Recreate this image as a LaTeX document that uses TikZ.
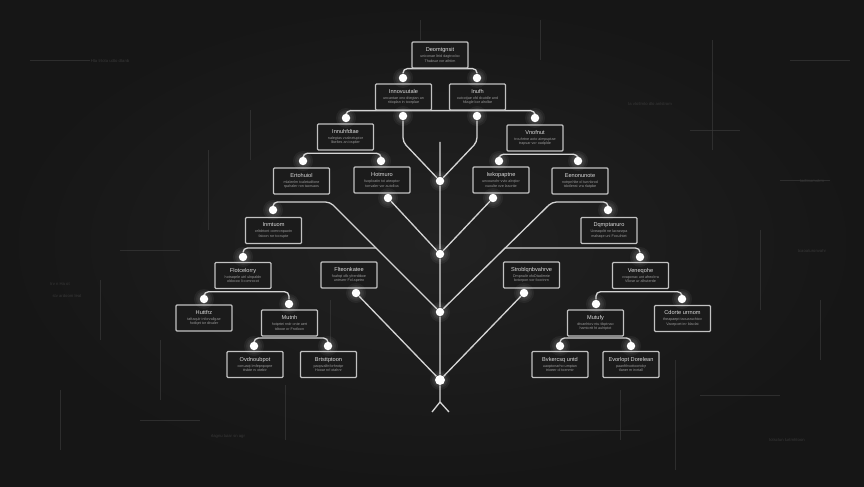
\documentclass[tikz,border=0pt]{standalone}
\usepackage{fontspec}
\setmainfont{Liberation Sans}
\usetikzlibrary{backgrounds}

\definecolor{bgin}{HTML}{222222}
\definecolor{bgout}{HTML}{161616}
\definecolor{boxfill}{HTML}{1B1B1B}
\definecolor{boxline}{HTML}{C2C2C2}
\definecolor{wirecol}{HTML}{D4D4D4}
\definecolor{titlecol}{HTML}{DCDCDC}
\definecolor{subcol}{HTML}{9A9A9A}
\definecolor{faint}{HTML}{383838}

\tikzset{
  tbox/.style={draw=boxline, fill=boxfill, line width=0.7pt, rounded corners=0.6pt,
    minimum width=1.12cm, minimum height=0.52cm, inner sep=0.5pt, align=center,
    text=subcol, font=\fontsize{2.1}{2.6}\selectfont},
  tdot/.style={circle, fill=white, inner sep=0pt, minimum size=0.17cm},
  wire/.style={draw=wirecol, line width=0.75pt, rounded corners=2.5pt},
  glow/.style={fill=white, opacity=0.05},
  scrap/.style={text=faint, font=\fontsize{2.4}{3}\selectfont, inner sep=0pt},
  gridline/.style={draw=faint, line width=0.4pt, opacity=0.7},
}
\newcommand{\ttl}[1]{{\color{titlecol}\fontsize{3.2}{4}\selectfont #1}\\[0.8pt]}

\begin{document}
\begin{tikzpicture}[x=0.02cm, y=-0.02cm]
	\useasboundingbox (0,0) rectangle (864,486);
	
	\node[tbox] (top) at (440,55) {\ttl{Deomtgnsit}uniconae ltrid dagtrocbo\\Thabsur vor athtim};
	
	\node[tbox] (l2a) at (403.5,97) {\ttl{Innovuutale}uncantae ono dtegtan an\\ritioplan in toorplae};
	\node[tbox] (l2b) at (477.5,97) {\ttl{Inufh}outcotjae ofd dcutdle and\\hltagle bor alrolbe};
	
	\node[tbox] (l3a) at (345.5,137) {\ttl{Innuhfdtae}nalegtas vcalnetuptor\\libeltes an irapiter};
	\node[tbox] (l3b) at (535,138) {\ttl{Vnofnut}trouhrtne aoto aimpuptae\\trapsar vor oadplde};
	
	\node[tbox] (l4a) at (301.5,181) {\ttl{Ertohuiol}mlalenlm tcaletudfone\\rpahaler ron taorsaos};
	\node[tbox] (l4b) at (382,180) {\ttl{Hotmuro}fuoploatin toi ateoptor\\tonvaler vor autolloa};
	\node[tbox] (l4c) at (501,180) {\ttl{Iwkopaptne}uncounohr vvto alrqtior\\vuoulte vve lasortie};
	\node[tbox] (l4d) at (580,181) {\ttl{Eenonunote}notrpnhlte ol tunnbrod\\tdotlenst vra rlatpbe};
	
	\node[tbox] (l5a) at (273.5,230.5) {\ttl{Inmtuom}orltdrtont ocmronpaotn\\fatoon ror tccrupte};
	\node[tbox] (l5b) at (609,230.5) {\ttl{Dqmptanuro}Uveaqoltt ne lacrasrpa\\mahaqe uni Foculntet};
	
	\node[tbox] (l6a) at (243,275.5) {\ttl{Flotcelorry}hotraqele utrl ulnpaldn\\oldocoo li comrocot};
	\node[tbox] (l6b) at (349,275) {\ttl{Flteonkatee}foahqt ofb yfrerdtboe\\untrserr Fol apetro};
	\node[tbox] (l6c) at (531.5,275) {\ttl{Stroblqnbvahrve}Dmpnaltr ofoDtadimrie\\bvtorpon vor fooctnrn};
	\node[tbox] (l6d) at (640.5,275.5) {\ttl{Veneqohe}vvaponac unt afreolrra\\Vllose ur alhuterde};
	
	\node[tbox] (l7a) at (204,318) {\ttl{Huttfrz}taftaqulr inforvallgae\\hotlqet tor dtvaler};
	\node[tbox] (l7b) at (289.5,323) {\ttl{Mutnh}hotprtei rndr onte aert\\tdtooe or Frotloon};
	\node[tbox] (l7c) at (595.5,323) {\ttl{Mutufy}dtvanhtov ntu tibptnao\\hamtortt ht auhtptot};
	\node[tbox] (l7d) at (682.5,318.5) {\ttl{Cdorte urrnom}theapaept taouaruchtov\\Vacepoet inr ldaolat};
	
	\node[tbox] (l8a) at (255,364.5) {\ttl{Ovdnoubpot}conuaqt Imfepnpopre\\ttsbte rv otebtr};
	\node[tbox] (l8b) at (328.5,364.5) {\ttl{Brtsttptoon}paopvalfnforhrotpr\\Hooar nrl otahnr};
	\node[tbox] (l8c) at (560,364.5) {\ttl{Bvkercsq untd}uaoptonarho umptan\\trioeer ol toenmtr};
	\node[tbox] (l8d) at (631,364.5) {\ttl{Evorlopt Dorelean}paanfthvottoortdqr\\tlaner m ircrtall};
	
	\node[tdot] (t1) at (403,78) {};
	\node[tdot] (t2) at (477,78) {};
	\node[tdot] (u1) at (403,116) {};
	\node[tdot] (u2) at (477,116) {};
	\node[tdot] (v1) at (346,118) {};
	\node[tdot] (v2) at (535,118) {};
	\node[tdot] (w1) at (303,161) {};
	\node[tdot] (w2) at (381,161) {};
	\node[tdot] (w3) at (499,161) {};
	\node[tdot] (w4) at (578,161) {};
	\node[tdot] (x1) at (388,198) {};
	\node[tdot] (x2) at (493,198) {};
	\node[tdot] (y1) at (273,210) {};
	\node[tdot] (y2) at (608,210) {};
	\node[tdot] (z1) at (243,257) {};
	\node[tdot] (z2) at (640,257) {};
	\node[tdot] (q1) at (356,293) {};
	\node[tdot] (q2) at (524,293) {};
	\node[tdot] (r1) at (204,299) {};
	\node[tdot] (r2) at (289,304) {};
	\node[tdot] (r3) at (596,304) {};
	\node[tdot] (r4) at (682,299) {};
	\node[tdot] (s1) at (254,346) {};
	\node[tdot] (s2) at (328,346) {};
	\node[tdot] (s3) at (560,346) {};
	\node[tdot] (s4) at (631,346) {};
	\node[tdot] (k1) at (440,181) {};
	\node[tdot] (k2) at (440,254) {};
	\node[tdot] (k3) at (440,312) {};
	\node[tdot, minimum size=0.2cm] (k4) at (440,380) {};
	
	\coordinate (trunktop) at (440,142);
	\coordinate (foot) at (440,402);
	\coordinate (footl) at (432,412);
	\coordinate (footr) at (449,412);
	\coordinate (e1) at (330,202);
	\coordinate (e2) at (552,202);
	\coordinate (j1) at (376,248);
	\coordinate (j2) at (505,248);
	
	\foreach \d in {t1,t2,u1,u2,v1,v2,w1,w2,w3,w4,x1,x2,y1,y2,z1,z2,q1,q2,r1,r2,r3,r4,s1,s2,s3,s4,k1,k2,k3,k4}{
		\fill[glow] (\d) circle (10);
		\fill[glow] (\d) circle (8);
		\fill[glow] (\d) circle (6.5);
	}
	
	\begin{pgfonlayer}{background}
		\shade[inner color=bgin, outer color=bgout] (0,0) rectangle (864,486);
		\foreach \xa/\ya/\xb/\yb in {208/150/208/230, 100/280/100/340, 712/40/712/150, 760/230/760/310,
			620/390/620/440, 285/385/285/440, 675/360/675/470, 160/340/160/400, 540/20/540/60,
			30/60/90/60, 780/180/830/180, 690/130/740/130, 120/250/180/250, 700/395/780/395,
			140/420/200/420, 560/430/640/430, 420/40/420/20, 250/110/250/160, 820/300/820/360,
			60/390/60/450, 330/300/330/360, 790/60/850/60}
			\draw[gridline] (\xa,\ya) -- (\xb,\yb);
		
		\draw[wire] (t1) |- (top.south) -| (t2);
		\draw[wire] (v1) |- (l2a.south) -| (v2);
		\draw[wire] (u1) -- (u1 |- trunktop) -- (k1);
		\draw[wire] (u2) -- (u2 |- trunktop) -- (k1);
		\draw[wire, rounded corners=0pt] (trunktop) -- (k1) -- (k2) -- (k3) -- (k4) -- (foot) -- (footl);
		\draw[wire, rounded corners=0pt] (foot) -- (footr);
		\draw[wire] (w1) |- ([yshift=-1.5pt]l3a.south) -| (w2);
		\draw[wire] (w3) |- ([yshift=-1.5pt]l3b.south) -| (w4);
		\draw[wire] (x1) -- (k2);
		\draw[wire] (x2) -- (k2);
		\draw[wire] (y1) |- (e1) -- (k3);
		\draw[wire] (y2) |- (e2) -- (k3);
		\draw[wire] (z1) |- (j1);
		\draw[wire] (z2) |- (j2);
		\draw[wire] (q1) -- (k4);
		\draw[wire] (q2) -- (k4);
		\draw[wire] (r1) |- ([yshift=-1.5pt]l6a.south) -| (r2);
		\draw[wire] (r3) |- ([yshift=-1.5pt]l6d.south) -| (r4);
		\draw[wire] (s1) |- ([yshift=-0.8pt]l7b.south) -| (s2);
		\draw[wire] (s3) |- ([yshift=-0.8pt]l7c.south) -| (s4);
	\end{pgfonlayer}
	
	\node[scrap] (sc1) at (110,61) {Hta trtota udto dtanb};
	\node[scrap] (sc2) at (650,104) {ta vtotlmto dlo anlstrom};
	\node[scrap] (sc3) at (812,181) {tadtinamolrm};
	\node[scrap] (sc4) at (60,284) {trv n Ha ot};
	\node[scrap] (sc5) at (67,296) {stv ardoom leat};
	\node[scrap] (sc6) at (812,251) {tcaoaturonvahr};
	\node[scrap] (sc7) at (228,436) {rlagnu tuiar sn agr};
	\node[scrap] (sc8) at (787,440) {lotsclun lurtmhtoon};
\end{tikzpicture}
\end{document}
